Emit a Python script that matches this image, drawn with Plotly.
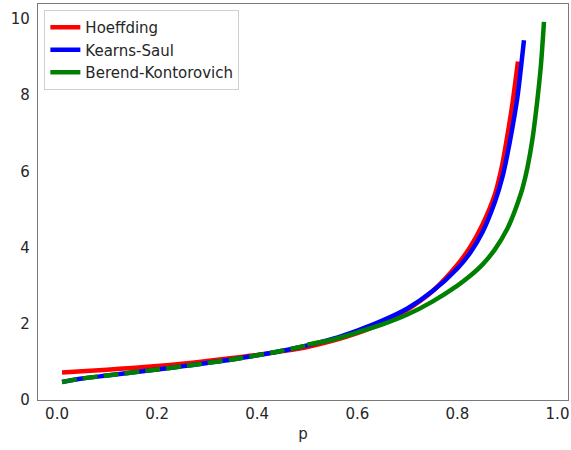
import plotly.graph_objects as go

# ---- data ----
p_hoeffding = [0.01, 0.05, 0.10, 0.15, 0.20, 0.25, 0.30, 0.35, 0.40, 0.45, 0.50,
               0.55, 0.60, 0.65, 0.70, 0.75, 0.80, 0.825, 0.85, 0.875, 0.89, 0.90,
               0.91, 0.921]
hoeffding = [0.72, 0.75, 0.79, 0.84, 0.89, 0.95, 1.02, 1.10, 1.18, 1.28, 1.39,
             1.55, 1.75, 2.01, 2.37, 2.85, 3.55, 4.00, 4.60, 5.40, 6.20, 6.95,
             7.78, 8.88]

p_kearns = [0.01, 0.05, 0.10, 0.15, 0.20, 0.25, 0.30, 0.35, 0.40, 0.45, 0.50,
            0.55, 0.60, 0.65, 0.70, 0.75, 0.80, 0.825, 0.85, 0.875, 0.89, 0.90,
            0.91, 0.92, 0.933]
kearns_saul = [0.47, 0.56, 0.64, 0.72, 0.80, 0.88, 0.97, 1.06, 1.17, 1.29, 1.43,
               1.60, 1.82, 2.08, 2.40, 2.85, 3.45, 3.85, 4.40, 5.20, 5.85, 6.45,
               7.15, 7.95, 9.44]

# Berend-Kontorovich: dashed part (p < 0.5) and solid part (p >= 0.5)
p_bk_low = [0.01, 0.05, 0.10, 0.15, 0.20, 0.25, 0.30, 0.35, 0.40, 0.45, 0.50]
bk_low = [0.47, 0.56, 0.64, 0.72, 0.80, 0.88, 0.97, 1.06, 1.17, 1.29, 1.43]

p_bk_high = [0.50, 0.55, 0.60, 0.65, 0.70, 0.75, 0.80, 0.825, 0.85, 0.875, 0.90,
             0.91, 0.92, 0.93, 0.94, 0.95, 0.96, 0.967, 0.973]
bk_high = [1.45, 1.58, 1.77, 1.98, 2.24, 2.58, 3.00, 3.25, 3.55, 3.95, 4.50,
           4.80, 5.15, 5.55, 6.10, 6.85, 7.90, 8.80, 9.92]

x_ticks = [0.0, 0.2, 0.4, 0.6, 0.8, 1.0]
x_tick_labels = ["0.0", "0.2", "0.4", "0.6", "0.8", "1.0"]
y_ticks = [0, 2, 4, 6, 8, 10]
y_tick_labels = ["0", "2", "4", "6", "8", "10"]

FONT = "DejaVu Sans"
TXT = "#262626"
LW = 4.5
FS = 15

fig = go.Figure()
fig.add_trace(go.Scatter(x=p_hoeffding, y=hoeffding, mode="lines", name="Hoeffding",
                         line=dict(color="red", width=LW, shape="spline", smoothing=0.8)))
fig.add_trace(go.Scatter(x=p_kearns, y=kearns_saul, mode="lines", name="Kearns-Saul",
                         line=dict(color="blue", width=LW, shape="spline", smoothing=0.8)))
fig.add_trace(go.Scatter(x=p_bk_low, y=bk_low, mode="lines", showlegend=False,
                         line=dict(color="green", width=LW, dash="15px,6px",
                                   shape="spline", smoothing=0.8)))
fig.add_trace(go.Scatter(x=p_bk_high, y=bk_high, mode="lines", name="Berend-Kontorovich",
                         line=dict(color="green", width=LW, shape="spline", smoothing=0.8)))

fig.update_layout(
    width=571, height=450,
    margin=dict(l=38, r=3, t=4, b=50, autoexpand=False),
    paper_bgcolor="white", plot_bgcolor="white",
    font=dict(family=FONT, size=FS, color=TXT),
    showlegend=True,
    legend=dict(x=0.012, y=0.985, xanchor="left", yanchor="top",
                bgcolor="rgba(255,255,255,0.8)", bordercolor="#d0d0d0", borderwidth=1,
                font=dict(family=FONT, size=FS, color=TXT),
                tracegroupgap=0, itemwidth=30),
    xaxis=dict(range=[-0.038, 1.021], tickvals=x_ticks, ticktext=x_tick_labels,
               showgrid=False, zeroline=False, showline=True, mirror=True,
               linecolor="#7a7a7a", linewidth=1.3, ticks="", automargin=False,
               title=dict(text="p", font=dict(family=FONT, size=FS, color=TXT), standoff=6)),
    yaxis=dict(range=[-0.0025, 10.39], tickvals=y_ticks, ticktext=y_tick_labels,
               showgrid=False, zeroline=False, showline=True, mirror=True,
               linecolor="#7a7a7a", linewidth=1.3, ticks="", automargin=False,
               ticklabelstandoff=4),
)

fig.write_html("out.html",
               config={"displayModeBar": False},
               post_script="document.body.style.margin='0';document.body.style.overflow='hidden';")
